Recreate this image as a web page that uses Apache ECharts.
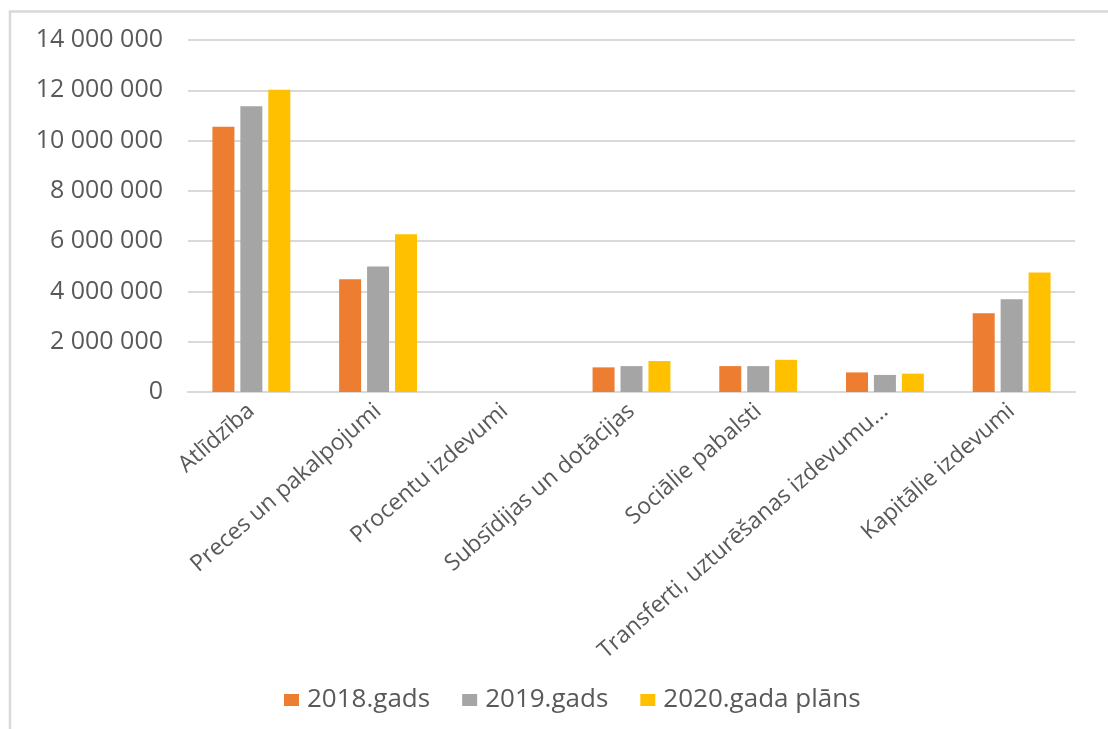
<!DOCTYPE html>
<html>
<head>
<meta charset="utf-8">
<script src="https://cdn.jsdelivr.net/npm/echarts@6/dist/echarts.min.js"></script>
<style>
html,body{margin:0;padding:0;background:#fff;}
#chart{width:1108px;height:729px;}
</style>
</head>
<body>
<div id="chart"></div>
<script>
var categories = ["Atlīdzība", "Preces un pakalpojumi", "Procentu izdevumi", "Subsīdijas un dotācijas", "Sociālie pabalsti", "Transferti, uzturēšanas izdevumu…", "Kapitālie izdevumi"];
var seriesNames = ["2018.gads", "2019.gads", "2020.gada plāns"];
var values2018 = [10550000, 4480000, 0, 980000, 1030000, 780000, 3130000];
var values2019 = [11370000, 4990000, 0, 1030000, 1030000, 680000, 3690000];
var values2020 = [12020000, 6270000, 0, 1230000, 1280000, 730000, 4750000];
var colors = ["#ED7D31", "#A5A5A5", "#FFC000"];

function fmt(v) {
  return String(v).replace(/\B(?=(\d{3})+(?!\d))/g, " ");
}

var chart = echarts.init(document.getElementById("chart"));
var font = "'Open Sans', 'Noto Sans', sans-serif";
chart.setOption({
  animation: false,
  backgroundColor: "#fff",
  color: colors,
  graphic: [{
    type: "rect",
    shape: { x: 10, y: 11.5, width: 1200, height: 800 },
    style: { fill: "none", stroke: "#D9D9D9", lineWidth: 2.5 },
    silent: true
  }],
  grid: { left: 188, right: 33, top: 40, bottom: 337, containLabel: false },
  legend: {
    top: 682,
    left: 279,
    itemWidth: 15,
    itemHeight: 12,
    itemGap: 32,
    icon: "rect",
    textStyle: { fontFamily: font, fontSize: 26, color: "#595959", padding: [0, 0, 0, 3] },
    data: seriesNames
  },
  xAxis: {
    type: "category",
    data: categories,
    axisLine: { lineStyle: { color: "#D9D9D9", width: 2 } },
    axisTick: { show: false },
    axisLabel: { rotate: 41, margin: 16, interval: 0, fontFamily: font, fontSize: 23, color: "#595959" }
  },
  yAxis: {
    type: "value",
    min: 0,
    max: 14000000,
    interval: 2000000,
    axisLine: { show: false },
    axisTick: { show: false },
    splitLine: { lineStyle: { color: "#D9D9D9", width: 2 } },
    axisLabel: { margin: 25, fontFamily: font, fontSize: 25, color: "#595959", formatter: fmt }
  },
  series: [
    { name: seriesNames[0], type: "bar", data: values2018, barWidth: 22, barGap: "27%" },
    { name: seriesNames[1], type: "bar", data: values2019, barWidth: 22, barGap: "27%" },
    { name: seriesNames[2], type: "bar", data: values2020, barWidth: 22, barGap: "27%" }
  ]
});
</script>
</body>
</html>
